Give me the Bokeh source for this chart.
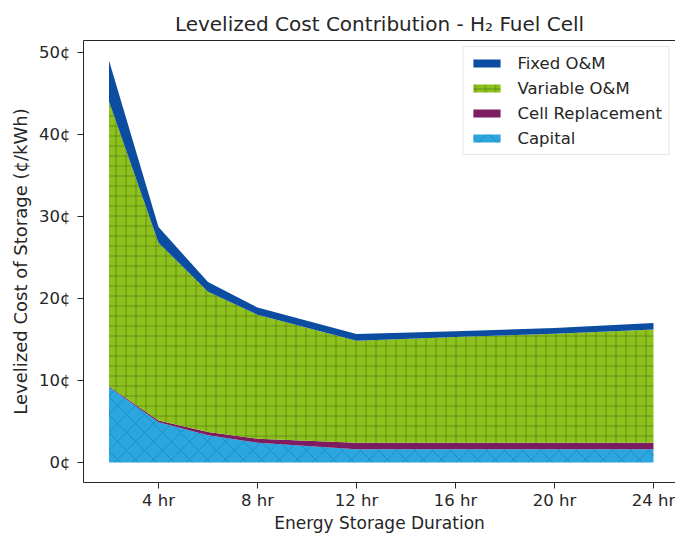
from bokeh.plotting import figure
from bokeh.models import (ColumnDataSource, FixedTicker, LinearAxis, Legend,
                          LegendItem, Range1d)
from bokeh.transform import stack
from bokeh.embed import file_html
from bokeh.resources import INLINE

# Storage duration (hours) and levelized cost components (cents per kWh)
durations = [2, 4, 6, 8, 12, 16, 20, 24]
capital = [9.2, 4.9, 3.3, 2.4, 1.6, 1.6, 1.6, 1.6]
cell_replacement = [0.1, 0.2, 0.4, 0.5, 0.8, 0.8, 0.8, 0.8]
variable_om = [34.7, 21.7, 17.1, 15.1, 12.45, 12.9, 13.3, 13.8]
fixed_om = [5.0, 1.9, 1.2, 0.9, 0.8, 0.7, 0.7, 0.8]

x_ticks = [4, 8, 12, 16, 20, 24]
x_tick_labels = ["4 hr", "8 hr", "12 hr", "16 hr", "20 hr", "24 hr"]
y_ticks = [0, 10, 20, 30, 40, 50]
y_tick_labels = ["0¢", "10¢", "20¢", "30¢", "40¢", "50¢"]

series_names = ["Capital", "Cell Replacement", "Variable O&M", "Fixed O&M"]
fields = ["capital", "cell", "variable", "fixed"]

source = ColumnDataSource(dict(
    x=durations,
    capital=capital,
    cell=cell_replacement,
    variable=variable_om,
    fixed=fixed_om,
))

FONT = "DejaVu Sans"
INK = "#262626"

p = figure(
    width=675, height=535,
    output_backend="svg", toolbar_location=None,
    x_range=Range1d(0.97, 24.89), y_range=Range1d(-2.45, 51.45),
    min_border_left=83, min_border_right=0,
    min_border_top=40, min_border_bottom=51,
)
p.outline_line_color = None
p.grid.grid_line_color = None
p.background_fill_color = "white"

styles = {
    "capital": dict(fill_color="#2ba6de", hatch_pattern="x", hatch_color="#1872aa",
                    hatch_alpha=0.5, hatch_scale=18, hatch_weight=1),
    "cell": dict(fill_color="#7d1c60"),
    "variable": dict(fill_color="#8dc21c", hatch_pattern="+", hatch_color="#4f6c16",
                     hatch_alpha=0.6, hatch_scale=10, hatch_weight=1),
    "fixed": dict(fill_color="#0c4da2"),
}

renderers = {}
for i, (field, name) in enumerate(zip(fields, series_names)):
    r = p.varea(x="x", y1=stack(*fields[:i]), y2=stack(*fields[:i + 1]),
                source=source, **styles[field])
    renderers[name] = r

legend = Legend(
    items=[LegendItem(label=n, renderers=[renderers[n]])
           for n in ["Fixed O&M", "Variable O&M", "Cell Replacement", "Capital"]],
    location="top_right", margin=6, padding=6, spacing=5,
    glyph_width=34, glyph_height=10, label_height=20,
    label_text_font=FONT, label_text_font_size="16.5px", label_text_color=INK,
    border_line_color="#cccccc", background_fill_alpha=0.9,
    label_standoff=14,
)
p.add_layout(legend)

# Axes
p.xaxis.ticker = FixedTicker(ticks=x_ticks)
p.xaxis.major_label_overrides = dict(zip(x_ticks, x_tick_labels))
p.yaxis.ticker = FixedTicker(ticks=y_ticks)
p.yaxis.major_label_overrides = dict(zip(y_ticks, y_tick_labels))
p.xaxis.axis_label = "Energy Storage Duration"
p.yaxis.axis_label = "Levelized Cost of Storage (¢/kWh)"

for ax in (p.xaxis[0], p.yaxis[0]):
    ax.axis_line_color = INK
    ax.major_tick_line_color = INK
    ax.major_tick_out = 6
    ax.major_tick_in = 0
    ax.minor_tick_line_color = None
    ax.major_label_text_font = FONT
    ax.major_label_text_font_size = "16.5px"
    ax.major_label_text_color = INK
    ax.axis_label_text_font = FONT
    ax.axis_label_text_font_size = "18px"
    ax.axis_label_text_font_style = "normal"
    ax.axis_label_text_color = INK

p.xaxis.axis_label_text_font_size = "17px"
p.xaxis.major_label_standoff = 2
p.xaxis.axis_label_standoff = 0
p.yaxis.major_label_standoff = 7
p.yaxis.axis_label_standoff = 5

# Top spine
top = LinearAxis(ticker=FixedTicker(ticks=[]), axis_line_color=INK,
                 major_tick_out=0, major_tick_in=0, minor_tick_line_color=None,
                 major_label_text_font_size="0px", major_label_standoff=0)
p.add_layout(top, "above")

p.title.text = "Levelized Cost Contribution - H₂ Fuel Cell"
p.title.align = "center"
p.title.text_font = FONT
p.title.text_font_size = "20px"
p.title.text_font_style = "normal"
p.title.text_color = INK

open("out.html", "w").write(file_html(p, INLINE))
